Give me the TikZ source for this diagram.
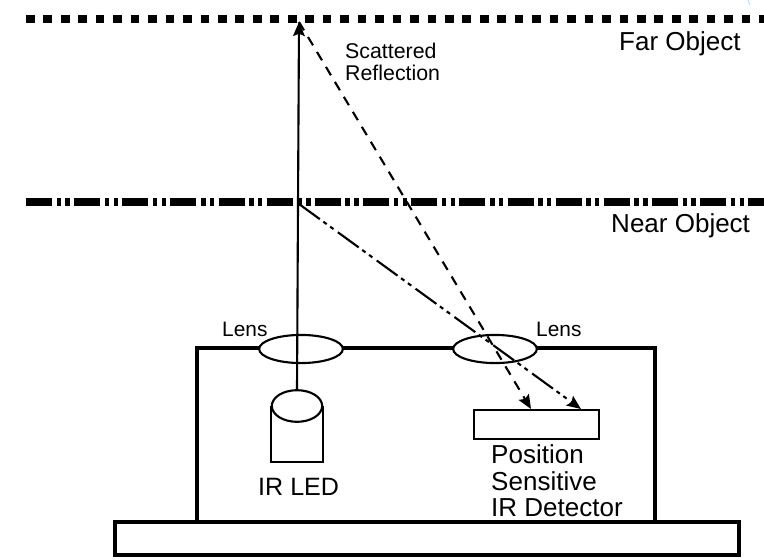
\documentclass[tikz,border=0pt]{standalone}
\usepackage{fontspec}
\setmainfont{Liberation Sans}
\usetikzlibrary{shapes.geometric,arrows.meta}
\tikzset{
    lbl/.style={inner sep=0pt, anchor=base west, font=\fontsize{#1}{#1}\selectfont},
    lens/.style={draw, fill=white, ellipse, line width=1.8pt, inner sep=0pt, minimum width=71.5pt, minimum height=24pt},
    farline/.style={line width=6pt, dash pattern=on 7.4pt off 7.5pt},
    nearline/.style={line width=7pt, dash pattern=on 22.2pt off 3.9pt on 3.9pt off 3.7pt on 3.7pt off 3.7pt},
    ray/.style={line width=1.8pt, -{Stealth[length=12pt,width=10pt,inset=2pt]}},
}
\begin{document}
\begin{tikzpicture}[x=0.03cm, y=-0.03cm]
    \useasboundingbox (0,0) rectangle (764,559);

    % objects
    \coordinate (farhit) at (299,22);
    \coordinate (nearhit) at (299,204);
    \draw[farline] (26,19) -- (764,19);
    \draw[nearline] (26,202) -- (764,202);
    \draw[cyan!40, line width=0.6pt] (748,0) -- (750,5);

    % housing and base
    \draw[line width=3pt] (197,522) -- (197,348) -- (655,348) -- (655,522);
    \draw[line width=2.6pt] (115,522) rectangle (739,555);

    \node[lens] (lensled) at (301,349) {};
    \node[lens] (lensdet) at (495,349) {};

    % LED
    \draw[line width=1.8pt] (271,406) -- (271,462) -- (323,462) -- (323,406);
    \node[draw, fill=white, ellipse, line width=1.8pt, inner sep=0pt, minimum width=43pt, minimum height=27pt] (led) at (297,406) {};

    % detector
    \node[draw, line width=1.8pt, inner sep=0pt, minimum width=106pt, minimum height=24.5pt] (detector) at (536.5,424.5) {};
    \coordinate (dfar) at (531,409);
    \coordinate (dnear) at (581,409);

    % rays
    \draw[ray] (led.north) -- (farhit);
    \draw[ray, dash pattern=on 8.3pt off 6.6pt] (farhit) -- (dfar);
    \draw[ray, dash pattern=on 22pt off 3.7pt on 3.5pt off 3.7pt on 3.5pt off 4.6pt] (nearhit) -- (dnear);

    % labels
    \node[lbl=22.2pt] (far) at (619,50) {Far Object};
    \node[lbl=22.2pt] (near) at (611,232) {Near Object};
    \node[lbl=18.2pt] (scat) at (345,58) {Scattered};
    \node[lbl=18.2pt] (refl) at (345,80) {Reflection};
    \node[lbl=17.8pt] (lensa) at (222,336) {Lens};
    \node[lbl=17.8pt] (lensb) at (536,336) {Lens};
    \node[lbl=21.4pt] (irled) at (258,495) {IR LED};
    \node[lbl=22.2pt] (pos) at (491,463) {Position};
    \node[lbl=22.2pt] (sens) at (491,490) {Sensitive};
    \node[lbl=22.2pt] (irdet) at (491,516) {IR Detector};
\end{tikzpicture}
\end{document}
